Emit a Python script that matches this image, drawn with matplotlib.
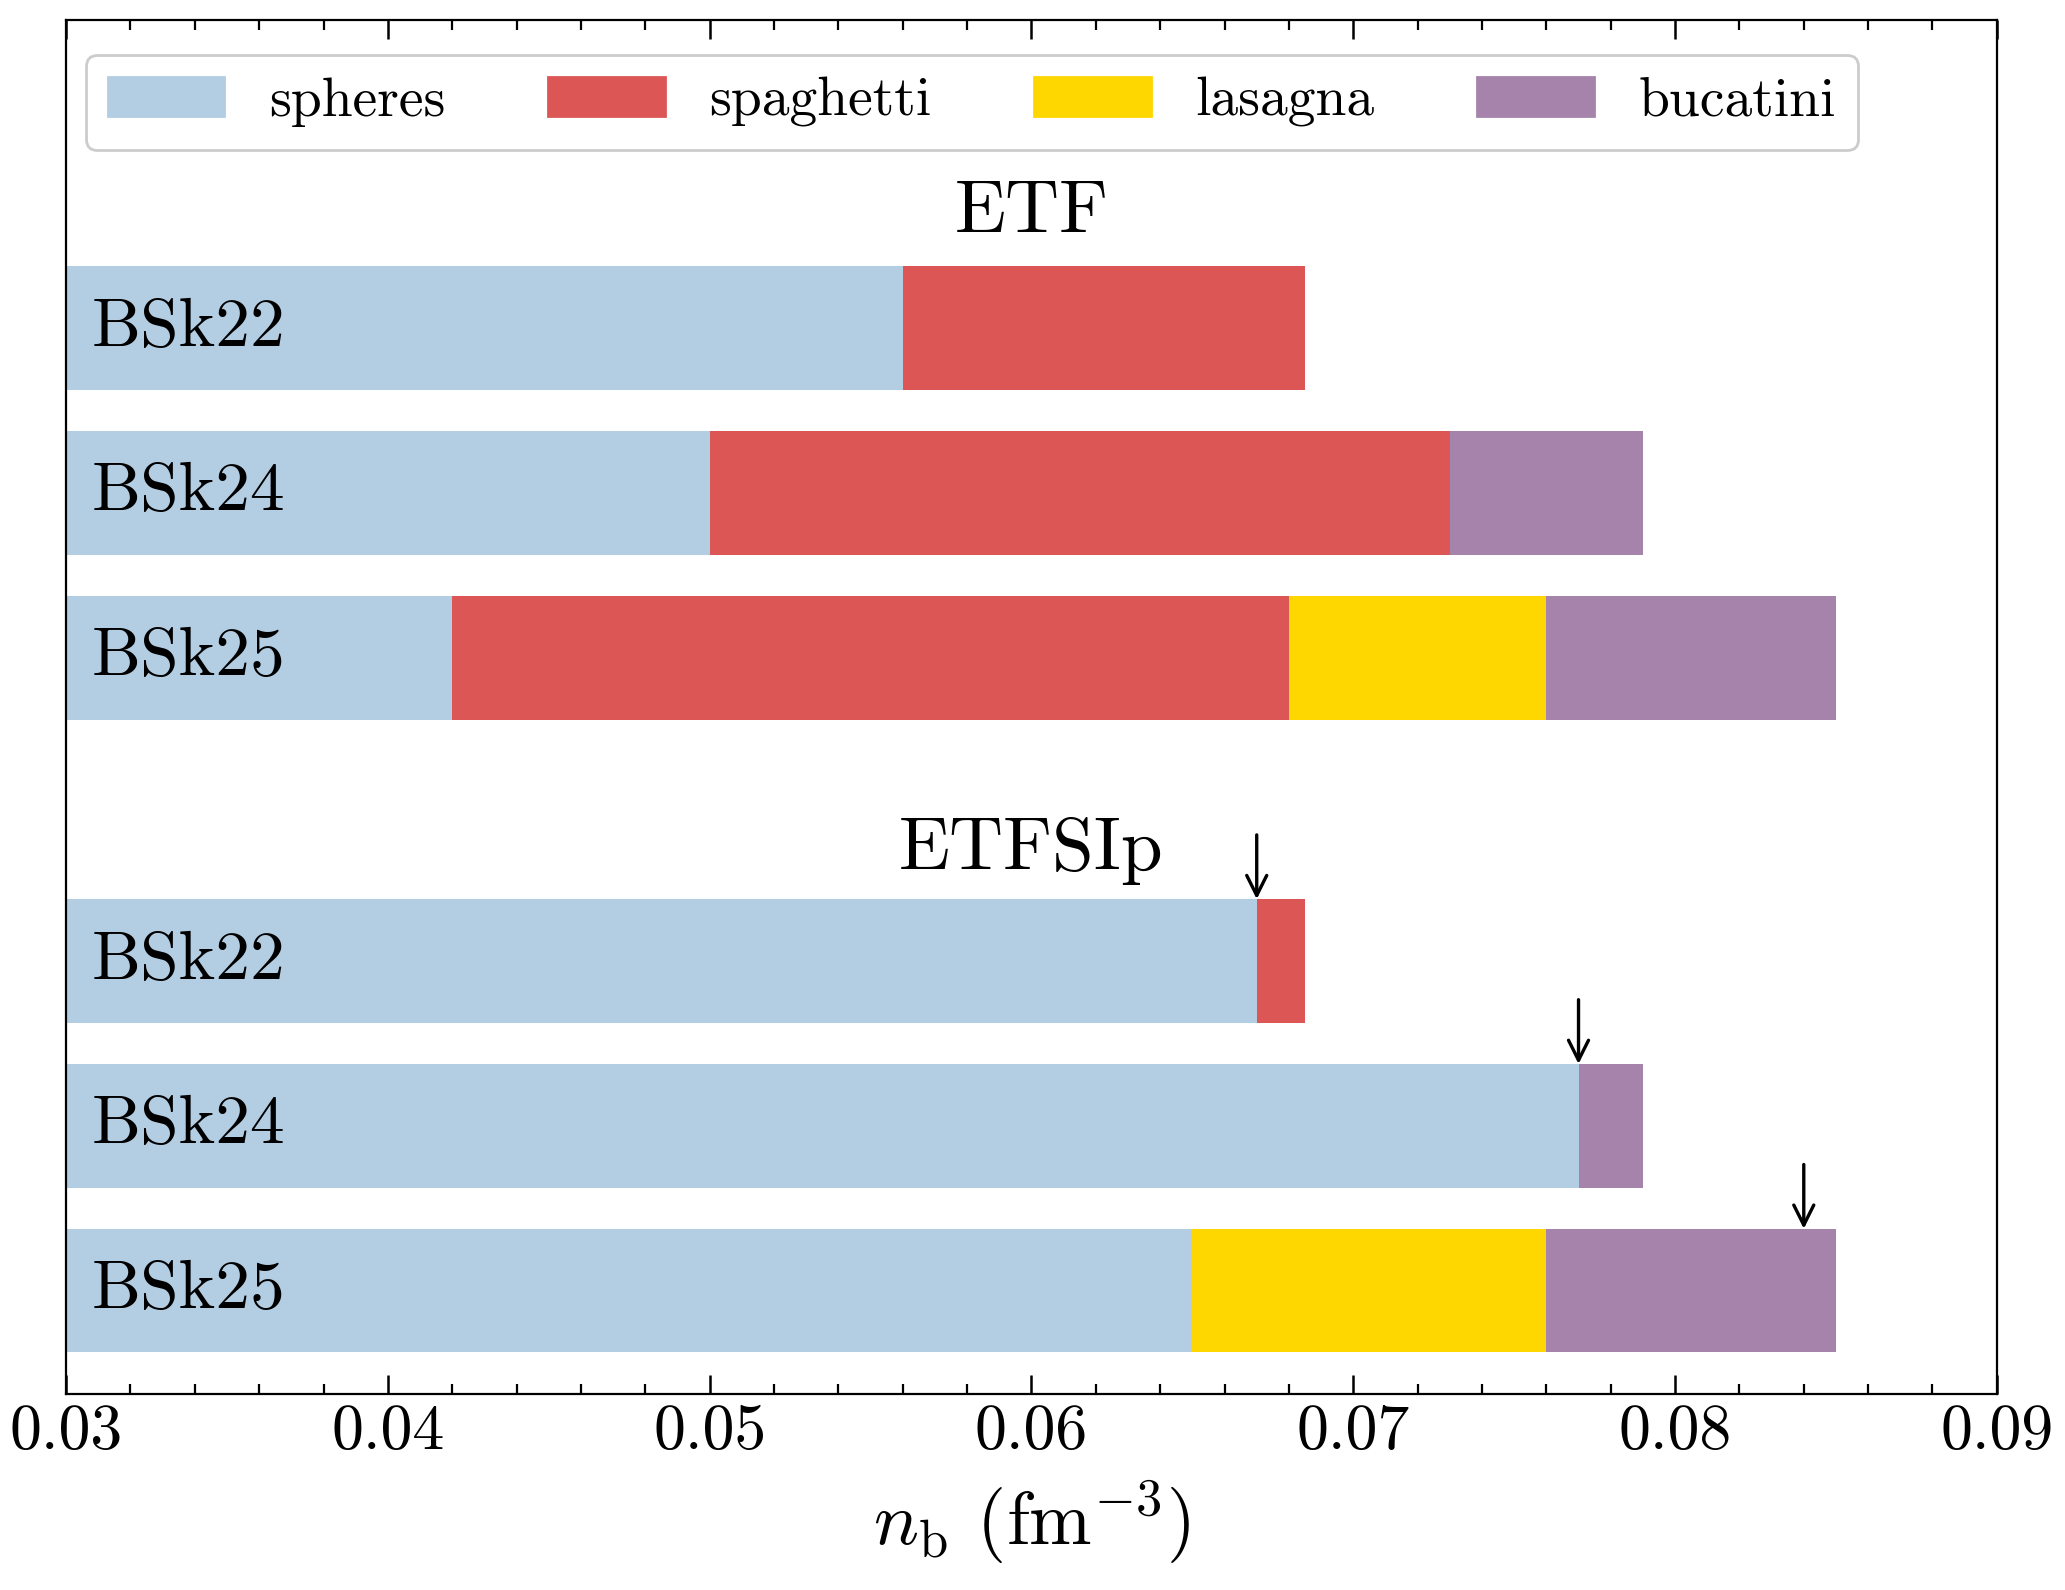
import matplotlib

matplotlib.use("Agg")
import matplotlib.pyplot as plt
from matplotlib.ticker import MultipleLocator

plt.rcParams["font.family"] = "serif"
plt.rcParams["font.serif"] = ["cmr10"]
plt.rcParams["mathtext.fontset"] = "cm"
plt.rcParams["axes.formatter.use_mathtext"] = True

phases = ["spheres", "spaghetti", "lasagna", "bucatini"]
colors = ["#b3cde3", "#dc5656", "#ffd700", "#a583ab"]
models = ["BSk22", "BSk24", "BSk25"]
groups = ["ETF", "ETFSIp"]
tick_vals = [0.03, 0.04, 0.05, 0.06, 0.07, 0.08, 0.09]
tick_labels = ["0.03", "0.04", "0.05", "0.06", "0.07", "0.08", "0.09"]

# upper edge of each phase for every model (None = phase absent)
etf_edges = [
    [0.056, 0.0685, None, None],
    [0.050, 0.073, None, 0.079],
    [0.042, 0.068, 0.076, 0.085],
]
etfsip_edges = [
    [0.067, 0.0685, None, None],
    [0.077, None, None, 0.079],
    [0.065, None, 0.076, 0.085],
]
# arrow positions for ETFSIp
arrow_x = [0.067, 0.077, 0.084]

x_start = 0.03
group_y = [[0.0, 1.0, 2.0], [3.84, 4.84, 5.84]]
title_y = [-0.69, 3.17]
bar_h = 0.75
arrow_len = 0.39


def draw_group(ax, edges, ys):
    for row, y in zip(edges, ys):
        left = x_start
        for phase, col, right in zip(phases, colors, row):
            if right is None:
                continue
            ax.barh(y, right - left, left=left, height=bar_h, color=col,
                    edgecolor="none")
            left = right


fig, ax = plt.subplots(figsize=(10.325, 7.95), dpi=200)
fig.subplots_adjust(left=0.032, right=0.967, top=0.9875, bottom=0.123)

draw_group(ax, etf_edges, group_y[0])
draw_group(ax, etfsip_edges, group_y[1])

for ys in group_y:
    for m, y in zip(models, ys):
        ax.text(0.0308, y, m, ha="left", va="center", fontsize=25)

for g, ty in zip(groups, title_y):
    ax.text(0.06, ty, g, ha="center", va="center", fontsize=27)

for xa, y in zip(arrow_x, group_y[1]):
    top = y - bar_h / 2
    ax.annotate("", xy=(xa, top), xytext=(xa, top - arrow_len),
                arrowprops=dict(arrowstyle="->", color="black", lw=1.2,
                                mutation_scale=18, shrinkA=0, shrinkB=0))

handles = [plt.Rectangle((0, 0), 1, 1, color=c) for c in colors]
ax.legend(handles, phases, loc="upper center", ncol=4, fontsize=20,
          bbox_to_anchor=(0.469, 0.995), handlelength=2.1, handleheight=0.72,
          handletextpad=0.8, columnspacing=1.85, fancybox=True,
          framealpha=1.0, edgecolor="#cccccc", borderpad=0.4)

ax.set_xlim(0.03, 0.09)
ax.set_ylim(6.47, -1.87)
ax.set_yticks([])
ax.set_xticks(tick_vals, tick_labels)
ax.xaxis.set_minor_locator(MultipleLocator(0.002))
ax.tick_params(axis="x", which="both", direction="in", top=True,
               labelsize=23)
ax.tick_params(axis="x", which="major", length=7, width=0.9)
ax.tick_params(axis="x", which="minor", length=3.5, width=0.8)
ax.set_xlabel(r"$n_{\rm b}$ (fm$^{-3}$)", fontsize=27, labelpad=6)

fig.savefig("out.png", dpi=200)
